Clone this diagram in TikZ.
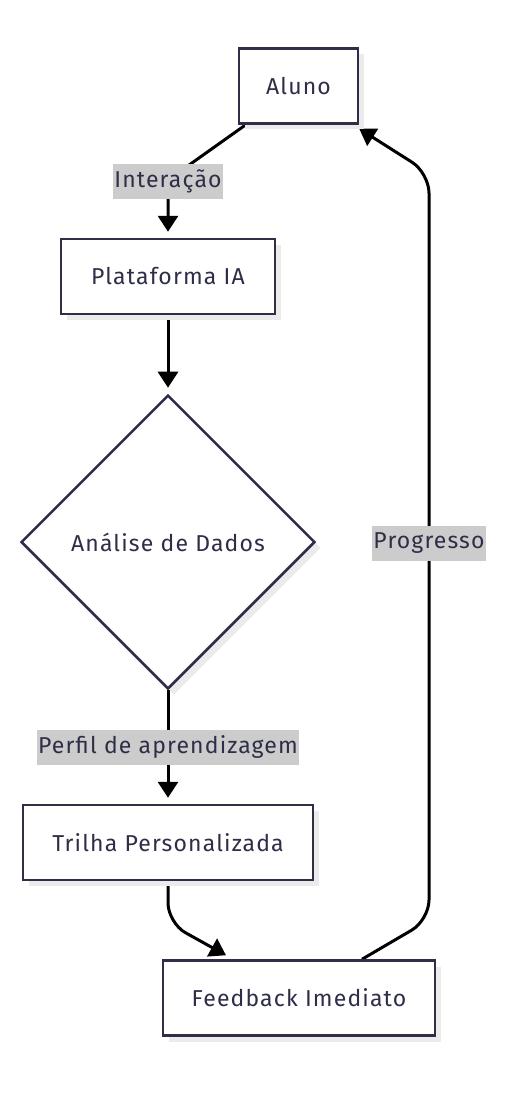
\documentclass[tikz,border=0pt]{standalone}
\usepackage{fontspec}
\setmainfont[LetterSpace=5]{Fira Sans}
\usetikzlibrary{arrows.meta,
                backgrounds,
                shadows,
                shapes.geometric
                }
\definecolor{ink}{HTML}{2E2E48}

\begin{document}
\begin{tikzpicture}[
    x=1pt, y=-1pt,
    font=\fontsize{23}{27}\selectfont,
    every node/.append style={text=ink},
    box/.style = {draw=ink, line width=2.5pt, fill=white,
                  minimum height=75pt, inner xsep=20pt,
                  drop shadow={shadow xshift=6pt, shadow yshift=-6pt,
                               fill=black!8, opacity=1}},
    dec/.style = {shape=diamond, aspect=1, draw=ink, line width=2.5pt, fill=white,
                  minimum width=294pt, minimum height=294pt, inner sep=0pt,
                  drop shadow={shadow xshift=6pt, shadow yshift=-6pt,
                               fill=black!8, opacity=1}},
    lbl/.style = {fill=gray!40, inner xsep=1pt, inner ysep=0pt, minimum height=35pt},
   edge/.style = {draw=black, line width=3pt, rounded corners=20pt,
                  -{Triangle[length=16pt, width=20pt]}, shorten >=6pt}
                    ]
\useasboundingbox (0,0) rectangle (510,1094);
% nodes
\node (alu)  [box, minimum width=119pt] at (298.5,86)  {Aluno};
\node (plat) [box, minimum width=214pt] at (168,276.5) {Plataforma IA};
\node (ana)  [dec]                      at (168,542)   {Análise de Dados};
\node (tri)  [box, minimum width=290pt] at (168,842.5) {Trilha Personalizada};
\node (feed) [box, minimum width=272pt] at (299,998)   {Feedback Imediato};
% edge labels
\node (l1) [lbl] at (168,181.5) {Interação};
\node (l2) [lbl] at (168,747)   {Perfil de aprendizagem};
\node (l3) [lbl] at (429,543)   {Progresso};
% edges
    \begin{scope}[on background layer]
\draw[edge] ([xshift=8pt]alu.south west) -- (168,180) -- (plat);
\draw[edge] (plat) -- (ana);
\draw[edge] (ana) -- (tri);
\draw[edge, shorten >=0pt] (tri.south) -- (168,923)
    -- ([xshift=-73pt, yshift=4pt]feed.north);
\draw[edge, shorten >=0pt] ([xshift=63pt]feed.north) -- (429,920)
    -- (429,173) -- ([yshift=-4pt]alu.south east);
    \end{scope}
\end{tikzpicture}
\end{document}
